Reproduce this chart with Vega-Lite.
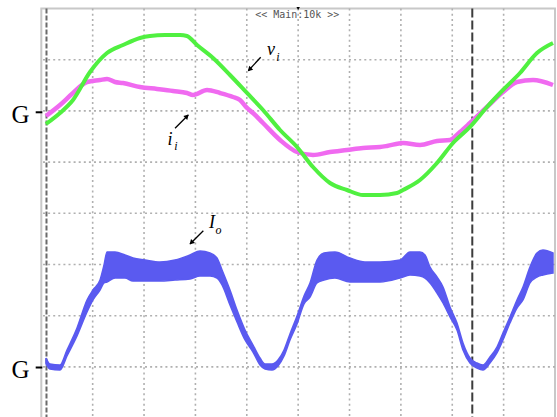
{
  "$schema": "https://vega.github.io/schema/vega-lite/v6.json",
  "width": 513.7,
  "height": 409.6,
  "autosize": {"type": "none"},
  "padding": {"left": 41.3, "top": 8.5, "right": 2, "bottom": 0},
  "background": "white",
  "config": {
    "view": {"stroke": "#c8c8c8", "strokeWidth": 2}
  },
  "layer": [
    {
      "data": {"values": [{"g": 1}, {"g": 2}, {"g": 3}, {"g": 4}, {"g": 5}, {"g": 6}, {"g": 7}, {"g": 8}, {"g": 9}]},
      "mark": {"type": "rule", "color": "#b0b0b0", "strokeWidth": 1.6, "strokeDash": [2, 3.2]},
      "encoding": {"x": {"field": "g", "type": "quantitative", "scale": {"domain": [0, 10], "nice": false, "zero": false}, "axis": null}}
    },
    {
      "data": {"values": [{"g": 1}, {"g": 2}, {"g": 3}, {"g": 4}, {"g": 5}, {"g": 6}, {"g": 7}]},
      "mark": {"type": "rule", "color": "#b0b0b0", "strokeWidth": 1.6, "strokeDash": [2, 3.1]},
      "encoding": {"y": {"field": "g", "type": "quantitative", "scale": {"domain": [0, 8], "nice": false, "zero": false}, "axis": null}}
    },
    {
      "data": {"values": [{"x": 0.101}]},
      "mark": {"type": "rule", "color": "#6a6a6a", "strokeWidth": 2, "strokeDash": [5, 2]},
      "encoding": {"x": {"field": "x", "type": "quantitative", "scale": {"domain": [0, 10], "nice": false, "zero": false}, "axis": null}}
    },
    {
      "data": {"values": [{"x": 8.39}]},
      "mark": {"type": "rule", "color": "#3c3c3c", "strokeWidth": 2, "strokeDash": [9, 3]},
      "encoding": {"x": {"field": "x", "type": "quantitative", "scale": {"domain": [0, 10], "nice": false, "zero": false}, "axis": null}}
    },
    {
      "data": {"values": [
        {"t": 0.091, "hi": 1.174, "lo": 1.057},
        {"t": 0.169, "hi": 1.057, "lo": 0.959},
        {"t": 0.364, "hi": 1.037, "lo": 0.940},
        {"t": 0.500, "hi": 1.330, "lo": 1.213},
        {"t": 0.695, "hi": 1.760, "lo": 1.604},
        {"t": 0.890, "hi": 2.307, "lo": 2.072},
        {"t": 1.006, "hi": 2.502, "lo": 2.307},
        {"t": 1.143, "hi": 2.697, "lo": 2.502},
        {"t": 1.221, "hi": 2.990, "lo": 2.639},
        {"t": 1.279, "hi": 3.244, "lo": 2.658},
        {"t": 1.435, "hi": 3.244, "lo": 2.736},
        {"t": 1.629, "hi": 3.186, "lo": 2.736},
        {"t": 1.785, "hi": 3.127, "lo": 2.678},
        {"t": 2.019, "hi": 3.088, "lo": 2.678},
        {"t": 2.310, "hi": 3.049, "lo": 2.678},
        {"t": 2.603, "hi": 3.088, "lo": 2.697},
        {"t": 2.895, "hi": 3.186, "lo": 2.717},
        {"t": 3.089, "hi": 3.264, "lo": 2.775},
        {"t": 3.284, "hi": 3.225, "lo": 2.775},
        {"t": 3.420, "hi": 3.127, "lo": 2.736},
        {"t": 3.518, "hi": 2.893, "lo": 2.600},
        {"t": 3.673, "hi": 2.502, "lo": 2.209},
        {"t": 3.810, "hi": 2.111, "lo": 1.877},
        {"t": 3.966, "hi": 1.721, "lo": 1.525},
        {"t": 4.121, "hi": 1.428, "lo": 1.291},
        {"t": 4.258, "hi": 1.174, "lo": 1.037},
        {"t": 4.355, "hi": 1.057, "lo": 0.959},
        {"t": 4.491, "hi": 1.057, "lo": 0.940},
        {"t": 4.608, "hi": 1.135, "lo": 1.018},
        {"t": 4.725, "hi": 1.330, "lo": 1.213},
        {"t": 4.841, "hi": 1.643, "lo": 1.525},
        {"t": 4.978, "hi": 1.994, "lo": 1.838},
        {"t": 5.114, "hi": 2.385, "lo": 2.229},
        {"t": 5.231, "hi": 2.639, "lo": 2.365},
        {"t": 5.367, "hi": 3.088, "lo": 2.639},
        {"t": 5.503, "hi": 3.225, "lo": 2.697},
        {"t": 5.717, "hi": 3.244, "lo": 2.736},
        {"t": 6.009, "hi": 3.127, "lo": 2.658},
        {"t": 6.301, "hi": 3.049, "lo": 2.658},
        {"t": 6.593, "hi": 3.049, "lo": 2.658},
        {"t": 6.983, "hi": 3.088, "lo": 2.736},
        {"t": 7.177, "hi": 3.244, "lo": 2.795},
        {"t": 7.372, "hi": 3.244, "lo": 2.775},
        {"t": 7.469, "hi": 3.186, "lo": 2.736},
        {"t": 7.567, "hi": 2.951, "lo": 2.639},
        {"t": 7.703, "hi": 2.756, "lo": 2.443},
        {"t": 7.820, "hi": 2.561, "lo": 2.248},
        {"t": 7.956, "hi": 2.170, "lo": 1.975},
        {"t": 8.092, "hi": 1.857, "lo": 1.721},
        {"t": 8.209, "hi": 1.467, "lo": 1.330},
        {"t": 8.345, "hi": 1.174, "lo": 1.076},
        {"t": 8.481, "hi": 1.076, "lo": 0.979},
        {"t": 8.598, "hi": 1.037, "lo": 0.940},
        {"t": 8.734, "hi": 1.194, "lo": 1.076},
        {"t": 8.870, "hi": 1.389, "lo": 1.272},
        {"t": 8.987, "hi": 1.662, "lo": 1.525},
        {"t": 9.123, "hi": 1.975, "lo": 1.857},
        {"t": 9.260, "hi": 2.307, "lo": 2.150},
        {"t": 9.377, "hi": 2.561, "lo": 2.307},
        {"t": 9.513, "hi": 2.951, "lo": 2.639},
        {"t": 9.649, "hi": 3.225, "lo": 2.756},
        {"t": 9.766, "hi": 3.283, "lo": 2.795},
        {"t": 9.961, "hi": 3.225, "lo": 2.834}
      ]},
      "mark": {"type": "area", "color": "#5a5af0", "opacity": 1, "interpolate": "monotone", "stroke": "#5a5af0", "strokeWidth": 1.5},
      "encoding": {
        "x": {"field": "t", "type": "quantitative", "scale": {"domain": [0, 10], "nice": false, "zero": false}, "axis": null},
        "y": {"field": "hi", "type": "quantitative", "scale": {"domain": [0, 8], "nice": false, "zero": false}, "axis": null},
        "y2": {"field": "lo"}
      }
    },
    {
      "data": {"values": [
        {"t": 0.091, "v": 5.900}, {"t": 0.364, "v": 6.115}, {"t": 0.617, "v": 6.350}, {"t": 0.890, "v": 6.564},
        {"t": 1.143, "v": 6.603}, {"t": 1.279, "v": 6.623}, {"t": 1.435, "v": 6.564}, {"t": 1.590, "v": 6.545},
        {"t": 1.921, "v": 6.467}, {"t": 2.252, "v": 6.428}, {"t": 2.564, "v": 6.389}, {"t": 2.836, "v": 6.350},
        {"t": 2.953, "v": 6.311}, {"t": 3.226, "v": 6.408}, {"t": 3.479, "v": 6.350}, {"t": 3.732, "v": 6.272},
        {"t": 3.868, "v": 6.213}, {"t": 4.004, "v": 6.057}, {"t": 4.121, "v": 5.959}, {"t": 4.316, "v": 5.764},
        {"t": 4.647, "v": 5.432}, {"t": 4.978, "v": 5.197}, {"t": 5.289, "v": 5.139}, {"t": 5.620, "v": 5.197},
        {"t": 5.951, "v": 5.237}, {"t": 6.262, "v": 5.276}, {"t": 6.593, "v": 5.295}, {"t": 6.729, "v": 5.315},
        {"t": 7.041, "v": 5.373}, {"t": 7.372, "v": 5.334}, {"t": 7.703, "v": 5.412}, {"t": 7.956, "v": 5.432},
        {"t": 8.151, "v": 5.588}, {"t": 8.345, "v": 5.764}, {"t": 8.676, "v": 6.076}, {"t": 8.987, "v": 6.369},
        {"t": 9.260, "v": 6.564}, {"t": 9.572, "v": 6.603}, {"t": 9.961, "v": 6.506}
      ]},
      "mark": {"type": "line", "color": "#f06af0", "strokeWidth": 4.5, "interpolate": "monotone"},
      "encoding": {
        "x": {"field": "t", "type": "quantitative", "scale": {"domain": [0, 10], "nice": false, "zero": false}, "axis": null},
        "y": {"field": "v", "type": "quantitative", "scale": {"domain": [0, 8], "nice": false, "zero": false}, "axis": null}
      }
    },
    {
      "data": {"values": [
        {"t": 0.091, "v": 5.744}, {"t": 0.364, "v": 5.959}, {"t": 0.617, "v": 6.213}, {"t": 0.948, "v": 6.760},
        {"t": 1.279, "v": 7.131}, {"t": 1.590, "v": 7.287}, {"t": 1.921, "v": 7.424}, {"t": 2.116, "v": 7.463},
        {"t": 2.408, "v": 7.482}, {"t": 2.700, "v": 7.482}, {"t": 2.836, "v": 7.463}, {"t": 3.031, "v": 7.287},
        {"t": 3.343, "v": 7.033}, {"t": 3.673, "v": 6.701}, {"t": 4.004, "v": 6.350}, {"t": 4.316, "v": 6.018},
        {"t": 4.647, "v": 5.627}, {"t": 4.978, "v": 5.295}, {"t": 5.289, "v": 4.904}, {"t": 5.620, "v": 4.592},
        {"t": 5.951, "v": 4.455}, {"t": 6.262, "v": 4.357}, {"t": 6.593, "v": 4.357}, {"t": 6.924, "v": 4.396},
        {"t": 7.041, "v": 4.455}, {"t": 7.372, "v": 4.650}, {"t": 7.703, "v": 4.982}, {"t": 8.015, "v": 5.373},
        {"t": 8.345, "v": 5.686}, {"t": 8.676, "v": 6.076}, {"t": 8.987, "v": 6.408}, {"t": 9.318, "v": 6.740},
        {"t": 9.649, "v": 7.131}, {"t": 9.961, "v": 7.326}
      ]},
      "mark": {"type": "line", "color": "#50f040", "strokeWidth": 4, "interpolate": "monotone"},
      "encoding": {
        "x": {"field": "t", "type": "quantitative", "scale": {"domain": [0, 10], "nice": false, "zero": false}, "axis": null},
        "y": {"field": "v", "type": "quantitative", "scale": {"domain": [0, 8], "nice": false, "zero": false}, "axis": null}
      }
    },
    {
      "data": {"values": [
        {"x1": 4.271, "y1": 7.047, "x2": 4.030, "y2": 6.785},
        {"x1": 2.603, "y1": 5.660, "x2": 2.862, "y2": 5.920},
        {"x1": 3.154, "y1": 3.660, "x2": 2.895, "y2": 3.400}
      ]},
      "mark": {"type": "rule", "color": "black", "strokeWidth": 1.3},
      "encoding": {
        "x": {"field": "x1", "type": "quantitative", "scale": {"domain": [0, 10], "nice": false, "zero": false}, "axis": null},
        "y": {"field": "y1", "type": "quantitative", "scale": {"domain": [0, 8], "nice": false, "zero": false}, "axis": null},
        "x2": {"field": "x2"},
        "y2": {"field": "y2"}
      }
    },
    {
      "data": {"values": [{"x": 4.053, "y": 6.809}, {"x": 2.920, "y": 3.426}]},
      "mark": {"type": "point", "shape": "triangle-up", "filled": true, "color": "black", "size": 30, "angle": 225, "opacity": 1},
      "encoding": {
        "x": {"field": "x", "type": "quantitative", "scale": {"domain": [0, 10], "nice": false, "zero": false}, "axis": null},
        "y": {"field": "y", "type": "quantitative", "scale": {"domain": [0, 8], "nice": false, "zero": false}, "axis": null}
      }
    },
    {
      "data": {"values": [{"x": 2.836, "y": 5.895}]},
      "mark": {"type": "point", "shape": "triangle-up", "filled": true, "color": "black", "size": 30, "angle": 45, "opacity": 1},
      "encoding": {
        "x": {"field": "x", "type": "quantitative", "scale": {"domain": [0, 10], "nice": false, "zero": false}, "axis": null},
        "y": {"field": "y", "type": "quantitative", "scale": {"domain": [0, 8], "nice": false, "zero": false}, "axis": null}
      }
    },
    {
      "data": {"values": [
        {"x": 4.472, "y": 7.189, "s": "v"},
        {"x": 2.505, "y": 5.434, "s": "i"},
        {"x": 3.323, "y": 3.811, "s": "I"}
      ]},
      "mark": {"type": "text", "font": "Liberation Serif", "fontStyle": "italic", "fontSize": 18, "color": "black", "align": "center", "baseline": "middle"},
      "encoding": {
        "x": {"field": "x", "type": "quantitative", "scale": {"domain": [0, 10], "nice": false, "zero": false}, "axis": null},
        "y": {"field": "y", "type": "quantitative", "scale": {"domain": [0, 8], "nice": false, "zero": false}, "axis": null},
        "text": {"field": "s"}
      }
    },
    {
      "data": {"values": [
        {"x": 4.608, "y": 7.053, "s": "i"},
        {"x": 2.622, "y": 5.318, "s": "i"},
        {"x": 3.449, "y": 3.674, "s": "o"}
      ]},
      "mark": {"type": "text", "font": "Liberation Serif", "fontStyle": "italic", "fontSize": 12, "color": "black", "align": "center", "baseline": "middle"},
      "encoding": {
        "x": {"field": "x", "type": "quantitative", "scale": {"domain": [0, 10], "nice": false, "zero": false}, "axis": null},
        "y": {"field": "y", "type": "quantitative", "scale": {"domain": [0, 8], "nice": false, "zero": false}, "axis": null},
        "text": {"field": "s"}
      }
    },
    {
      "data": {"values": [{"x": -0.405, "y": 5.920, "s": "G"}, {"x": -0.405, "y": 0.939, "s": "G"}]},
      "mark": {"type": "text", "font": "Liberation Serif", "fontSize": 25, "color": "black", "align": "center", "baseline": "middle"},
      "encoding": {
        "x": {"field": "x", "type": "quantitative", "scale": {"domain": [0, 10], "nice": false, "zero": false}, "axis": null},
        "y": {"field": "y", "type": "quantitative", "scale": {"domain": [0, 8], "nice": false, "zero": false}, "axis": null},
        "text": {"field": "s"}
      }
    },
    {
      "data": {"values": [{"x1": -0.109, "x2": 0.02, "y": 5.973}, {"x1": -0.109, "x2": 0.02, "y": 0.988}]},
      "mark": {"type": "rule", "color": "black", "strokeWidth": 2},
      "encoding": {
        "x": {"field": "x1", "type": "quantitative", "scale": {"domain": [0, 10], "nice": false, "zero": false}, "axis": null},
        "x2": {"field": "x2"},
        "y": {"field": "y", "type": "quantitative", "scale": {"domain": [0, 8], "nice": false, "zero": false}, "axis": null}
      }
    },
    {
      "data": {"values": [{"x": 4.983, "y": 7.873, "s": "<< Main:10k >>"}]},
      "mark": {"type": "text", "font": "DejaVu Sans Mono", "fontSize": 10, "color": "#555555", "align": "center", "baseline": "middle"},
      "encoding": {
        "x": {"field": "x", "type": "quantitative", "scale": {"domain": [0, 10], "nice": false, "zero": false}, "axis": null},
        "y": {"field": "y", "type": "quantitative", "scale": {"domain": [0, 8], "nice": false, "zero": false}, "axis": null},
        "text": {"field": "s"}
      }
    },
    {
      "data": {"values": [{"x": 5.0, "y": 8.0}]},
      "mark": {"type": "point", "shape": "triangle-down", "filled": true, "color": "black", "size": 12, "opacity": 1},
      "encoding": {
        "x": {"field": "x", "type": "quantitative", "scale": {"domain": [0, 10], "nice": false, "zero": false}, "axis": null},
        "y": {"field": "y", "type": "quantitative", "scale": {"domain": [0, 8], "nice": false, "zero": false}, "axis": null}
      }
    }
  ]
}
